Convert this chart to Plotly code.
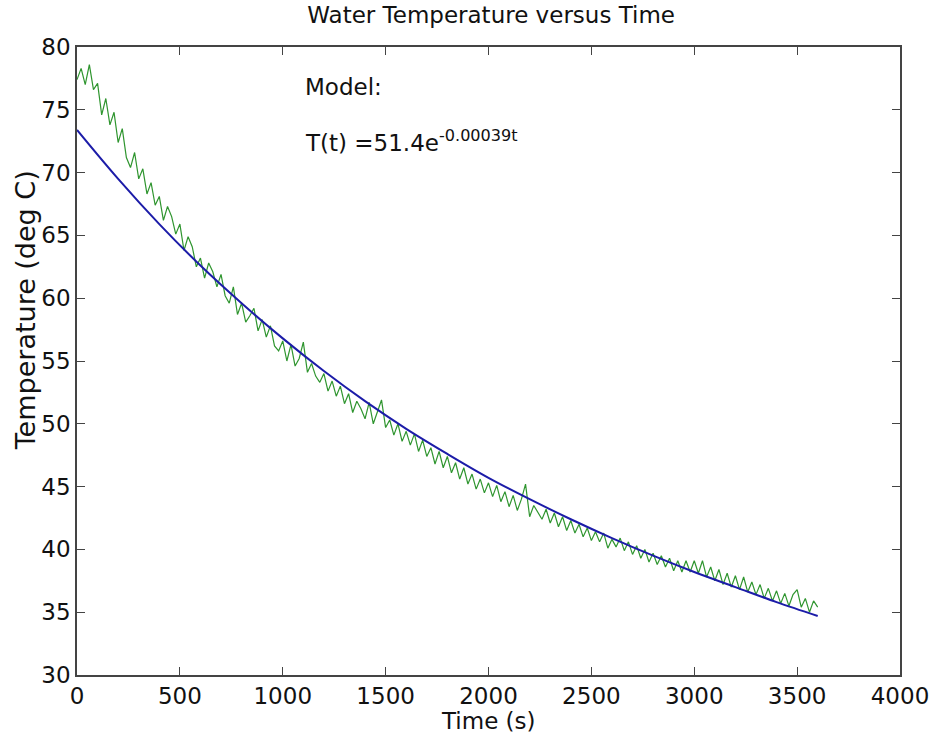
import plotly.graph_objects as go

time_s = list(range(0, 3601, 20))
temp_measured = [
    77.4, 78.3, 77.0, 78.6, 76.6, 77.1, 74.6, 75.9, 73.8, 74.8,
    72.4, 73.5, 71.2, 70.4, 71.6, 69.5, 70.3, 68.3, 69.2, 67.4,
    68.1, 66.2, 67.3, 66.5, 65.1, 65.9, 63.8, 64.9, 64.1, 62.5,
    63.2, 61.6, 62.8, 62.1, 60.9, 61.9, 60.2, 59.6, 60.9, 58.7,
    59.6, 58.1, 58.6, 59.2, 57.4, 58.3, 56.9, 57.8, 56.2, 55.8,
    56.6, 55.0, 56.3, 54.6, 55.2, 56.5, 54.1, 54.8, 53.8, 53.3,
    54.0, 52.6, 53.4, 52.2, 53.0, 51.6, 52.4, 50.9, 51.8, 51.2,
    50.4, 51.7, 50.0, 50.9, 51.9, 49.7, 50.3, 49.1, 50.0, 48.6,
    49.4, 48.3, 49.2, 47.8, 48.7, 47.4, 48.1, 46.8, 47.8, 46.5,
    47.4, 46.1, 46.9, 45.6, 46.5, 45.2, 46.0, 44.8, 45.6, 44.5,
    45.3, 44.2, 45.1, 43.8, 44.6, 43.4, 44.3, 43.1, 44.0, 45.2,
    42.6, 43.5, 43.0, 42.4, 43.2, 42.1, 42.9, 41.8, 42.6, 41.5,
    42.3, 41.3, 42.0, 41.0, 41.7, 40.7, 41.4, 40.6, 41.3, 40.1,
    40.8, 40.2, 40.9, 39.9, 40.6, 39.6, 40.3, 39.3, 40.0, 39.0,
    39.7, 38.8, 39.5, 38.6, 39.3, 38.3, 39.1, 38.2, 39.1, 38.2,
    39.1, 38.1, 39.1, 37.8, 38.6, 37.5, 38.4, 37.2, 38.1, 37.0,
    37.9, 36.8, 37.8, 36.6, 37.4, 36.4, 37.2, 36.1, 36.9, 35.9,
    36.7, 35.7, 36.5, 35.5, 36.4, 36.8, 35.4, 36.1, 35.0, 35.9,
    35.4,
]

# Model curve, read at 200 s steps
model_t = [0, 200, 400, 600, 800, 1000, 1200, 1400, 1600, 1800,
           2000, 2200, 2400, 2600, 2800, 3000, 3200, 3400, 3600]
model_T = [73.4, 69.5, 65.9, 62.6, 59.6, 56.8, 54.2, 51.8, 49.6, 47.6,
           45.7, 44.0, 42.4, 40.9, 39.5, 38.2, 37.0, 35.8, 34.7]

x_ticks = [0, 500, 1000, 1500, 2000, 2500, 3000, 3500, 4000]
y_ticks = [30, 35, 40, 45, 50, 55, 60, 65, 70, 75, 80]

FONT = "DejaVu Sans, Liberation Sans, Arial, sans-serif"
TXT = "#111"

fig = go.Figure()
fig.add_trace(go.Scatter(x=time_s, y=temp_measured, mode="lines",
                         line=dict(color="#2f952f", width=1.2),
                         showlegend=False, hoverinfo="x+y"))
fig.add_trace(go.Scatter(x=model_t, y=model_T, mode="lines",
                         line=dict(color="#1c1ca8", width=2, shape="spline"),
                         showlegend=False, hoverinfo="x+y"))

axis_common = dict(showline=True, linecolor="#444", linewidth=1.5, mirror="ticks",
                   ticks="inside", ticklen=8, tickcolor="#444", showgrid=False,
                   zeroline=False, automargin=False,
                   tickfont=dict(family=FONT, size=23, color=TXT))

fig.update_xaxes(range=[0, 4000], tickvals=x_ticks, **axis_common)
fig.update_yaxes(range=[30, 80], tickvals=y_ticks, **axis_common)

# axis titles
fig.add_annotation(x=0.5, y=0.0, xref="paper", yref="paper", yshift=-31,
                   text="Time (s)", showarrow=False, xanchor="center", yanchor="top",
                   font=dict(family=FONT, size=23, color=TXT))
fig.add_annotation(x=-0.063, y=0.581, xref="paper", yref="paper",
                   text="Temperature (deg C)", showarrow=False, textangle=-90,
                   xanchor="center", yanchor="middle",
                   font=dict(family=FONT, size=27, color=TXT))

# model text
fig.add_annotation(x=1100, y=76.8, xref="x", yref="y", text="Model:", showarrow=False,
                   xanchor="left", yanchor="middle", font=dict(family=FONT, size=23, color=TXT))
fig.add_annotation(x=1100, y=72.5, xref="x", yref="y", text="T(t) =51.4e<sup>-0.00039t</sup>",
                   showarrow=False, xanchor="left", yanchor="middle",
                   font=dict(family=FONT, size=23, color=TXT))

fig.update_layout(
    width=932, height=734,
    margin=dict(l=77, r=32, t=47, b=59),
    paper_bgcolor="white", plot_bgcolor="white",
    title=dict(text="Water Temperature versus Time", x=0.527, xanchor="center",
               y=0.99, yanchor="top", font=dict(family=FONT, size=23, color=TXT)),
)

fig.write_html("out.html", config={"displayModeBar": False},
               post_script="document.body.style.margin='0px';document.body.style.overflow='hidden';")
